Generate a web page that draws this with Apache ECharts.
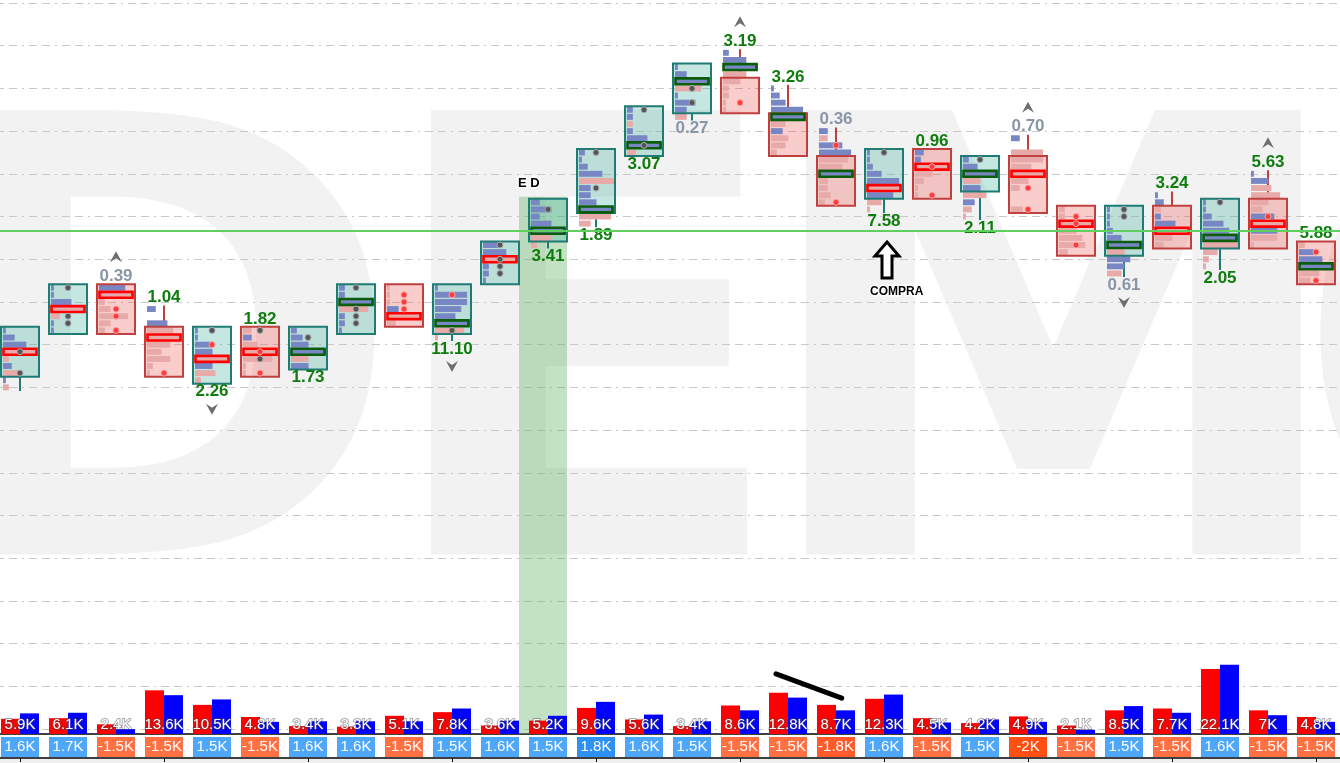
<!DOCTYPE html>
<html>
<head>
<meta charset="utf-8">
<title>Footprint</title>
<script src="https://cdn.jsdelivr.net/npm/echarts@6/dist/echarts.min.js"></script>
<style>
html,body{margin:0;padding:0;background:#fff;}
#main{width:1340px;height:763px;}
</style>
</head>
<body>
<div id="main"></div>
<script>
// price in ticks (1 tick = one profile row), 6 ticks per grid line
var bars = ['1','2','3','4','5','6','7','8','9','10','11','12','13','14','15','16','17','18','19','20','21','22','23','24','25','26','27','28'];
var openTick  = [50,56,62,56,49,56,51,56,62,56,63,69,73,81,87,91,86,80,75,81,76,80,73,67,73,68,74,68];
var closeTick = [56,62,56,50,56,50,56,62,57,62,68,74,81,87,93,87,81,74,81,75,80,73,67,73,68,74,68,63];
var highTick  = [56,62,62,59,56,56,56,62,62,62,68,74,81,87,93,95,90,84,81,81,80,83,73,73,75,74,78,68];
var lowTick   = [48,56,56,50,49,50,51,56,57,55,63,68,71,81,86,87,81,74,73,75,72,73,67,64,68,65,68,63];
var pocTick   = [53,59,61,55,52,53,53,60,58,57,66,70,73,82,91,93,86,78,76,79,78,78,71,68,70,69,71,65];

// volume at price, from high row down to low row (+ buy, - sell)
var profile = [
  [1,4,8,-12,-2,3,-5,1,-2],
  [1,1,7,-12,-3,1,1],
  [9,-12,-2,-4,-10,-4,-2],
  [3,0,7,-9,-12,-8,-5,-8,-2,-1],
  [1,1,6,6,-12,6,-7,-2],
  [-3,3,-5,-12,-10,-1,-1],
  [2,4,6,12,-6,6],
  [2,2,12,-10,2,2,1],
  [-1,-1,-1,4,-12,-3],
  [1,11,11,9,7,12,-10,-1],
  [6,8,-12,2,2,1],
  [3,7,3,7,12,-7,-2],
  [2,1,3,8,-12,4,4,6,12,-11,-4],
  [2,2,-2,2,7,12,-3],
  [1,4,12,-9,1,7,4,-4],
  [2,8,12,-8,-6,-2,-2,-1,-1],
  [1,3,5,11,12,-5,4,-6,-5,-2],
  [3,-3,8,11,-10,-8,12,-3,-3,-4,-2],
  [1,1,2,5,11,-12,9,-5,-1],
  [3,2,-12,-6,-3,-1,-1],
  [2,5,12,-6,6,-8,4,-3,-1],
  [3,0,-11,-11,-7,-12,-6,-3,0,0,-4],
  [-2,-2,-12,-6,-8,-9,-3],
  [1,1,1,2,5,12,-6,8,6,-5],
  [1,3,-2,2,7,-12,-6,-3],
  [1,1,3,7,9,12,-12,-5,-2,-1],
  [1,6,-7,-10,-6,-4,8,-12,9,-9,-1],
  [-2,5,8,12,-7,-4]
];
// dot rows (negative = red dot)
var dots = [[53,50],[62,58,57],[-59,-58,-56],[-50],[56,-54],[56,-53,52,-50],[55],[62,59,58,57],[-61,-60,-59],[-61,56],
  [68,66,65,64],[73],[81,76],[87,82],[90,88],[-88],[],[-82,-74],[81],[-79,-75],[80],[-76,-73],[-72,-71,-68],[73,72],[],[74],[-72],[-67,-63]];

var tagText  = ['','','0.39','1.04','2.26','1.82','1.73','','','11.10','','3.41','1.89','3.07','0.27','3.19','3.26','0.36','7.58','0.96','2.11','0.70','','0.61','3.24','2.05','5.63','5.88'];
var tagSide  = [0,0,1,1,-1,1,-1,0,0,-1,0,-1,-1,-1,-1,1,1,1,-1,1,-1,1,0,-1,1,-1,1,1];
var tagGray  = [0,0,1,0,0,0,0,0,0,0,0,0,0,0,1,0,0,1,0,0,0,1,0,1,0,0,0,0];
var tagArrow = [0,0,1,0,1,0,0,0,0,1,0,0,0,0,0,1,0,0,0,0,0,1,0,1,0,0,1,0];

var sellVol = [2.5,2.6,1.6,7.2,4.8,2.8,1.3,1.2,3.0,3.6,1.4,2.2,4.3,2.4,1.3,4.7,6.8,4.8,5.8,2.6,1.8,2.9,1.4,3.9,4.2,10.7,3.9,2.8];
var buyVol  = [3.4,3.5,0.8,6.4,5.7,2.0,2.1,2.1,2.1,4.2,2.2,3.0,5.3,3.2,2.1,3.9,6.0,3.9,6.5,1.9,2.4,2.0,0.7,4.6,3.5,11.4,3.1,2.0];
var volText = ['5.9K','6.1K','2.4K','13.6K','10.5K','4.8K','3.4K','3.3K','5.1K','7.8K','3.6K','5.2K','9.6K','5.6K','3.4K','8.6K','12.8K','8.7K','12.3K','4.5K','4.2K','4.9K','2.1K','8.5K','7.7K','22.1K','7K','4.8K'];
var delta   = [1.6,1.7,-1.5,-1.5,1.5,-1.5,1.6,1.6,-1.5,1.5,1.6,1.5,1.8,1.6,1.5,-1.5,-1.5,-1.8,1.6,-1.5,1.5,-2,-1.5,1.5,-1.5,1.6,-1.5,-1.5];

var levelTick = 70;
var highlightBar = 11, highlightText = 'E D';
var signalBar = 18, signalText = 'COMPRA';
var trendFrom = [15.75, 9.9], trendTo = [17.12, 5.9];

var FONT = '"Liberation Sans", Arial, sans-serif';

function catPoint(api, x, y) {
	var a = Math.floor(x);
	var p0 = api.coord([a, y]);
	var p1 = api.coord([a + 1, y]);
	return [p0[0] + (x - a) * (p1[0] - p0[0]), p0[1]];
}

function chevron(x, y, down) {
	var s = down ? -1 : 1;
	return {type:'polygon', shape:{points:[[x, y - 6*s], [x + 6, y + 5*s], [x, y + 1*s], [x - 6, y + 5*s]]},
		style:{fill:'#6e6e6e'}};
}

function renderCandle(params, api) {
	var i = api.value(0);
	var o = api.value(1), c = api.value(2), lo = api.value(3), hi = api.value(4);
	var up = c > o;
	var xc = api.coord([i, 0])[0];
	var tick = api.size([0, 1])[1];
	var yOf = function (t) { return api.coord([i, t])[1]; };
	var half = 19;
	var border = up ? '#1f7b74' : '#c0403f';
	var fill = up ? 'rgba(70,180,165,0.32)' : 'rgba(240,90,90,0.3)';
	var yTop = yOf(Math.max(o, c) + 0.5), yBot = yOf(Math.min(o, c) - 0.5);
	var yHi = yOf(hi + 0.5), yLo = yOf(lo - 0.5);
	var kids = [];
	if (yHi < yTop - 0.5) kids.push({type:'line', shape:{x1:xc, y1:yHi, x2:xc, y2:yTop}, style:{stroke:border, lineWidth:2}});
	if (yLo > yBot + 0.5) kids.push({type:'line', shape:{x1:xc, y1:yBot, x2:xc, y2:yLo}, style:{stroke:border, lineWidth:2}});
	kids.push({type:'rect', shape:{x:xc - half, y:yTop, width:half * 2, height:yBot - yTop}, style:{fill:fill}});
	var prof = profile[i];
	var unit = 35 / 12;
	for (var r = 0; r < prof.length; r++) {
		var v = prof[r];
		if (!v) continue;
		var yc = yOf(hi - r);
		kids.push({type:'rect', shape:{x:xc - half + 2, y:yc - tick / 2 + 0.6, width:Math.abs(v) * unit, height:tick - 1.2},
			style:{fill: v > 0 ? '#7886c4' : '#e8a9a9'}});
	}
	kids.push({type:'rect', shape:{x:xc - half, y:yTop, width:half * 2, height:yBot - yTop}, style:{fill:'none', stroke:border, lineWidth:2}});
	var pr = pocTick[i], pv = prof[hi - pr];
	kids.push({type:'rect', shape:{x:xc - 16.5, y:yOf(pr) - tick / 2 + 0.6, width:33, height:tick - 1.2},
		style:{fill:'none', stroke: pv > 0 ? '#0b5d0b' : '#ff0000', lineWidth:2.6}});
	var d = dots[i];
	for (var k = 0; k < d.length; k++) {
		var red = d[k] < 0;
		kids.push({type:'circle', shape:{cx:xc, cy:yOf(Math.abs(d[k])), r:3},
			style:{fill: red ? '#ff3c3c' : '#555', stroke: red ? '#ffa0a0' : '#aaa', lineWidth:1}});
	}
	if (tagText[i]) {
		var ty = tagSide[i] > 0 ? yHi - 8 : yLo + 8;
		kids.push({type:'text', style:{text:tagText[i], x:xc, y:ty, align:'center', verticalAlign:'middle',
			font:'bold 17px ' + FONT, fill: tagGray[i] ? '#8a95a6' : '#0e7d0e'}});
		if (tagArrow[i]) kids.push(tagSide[i] > 0 ? chevron(xc, ty - 19, false) : chevron(xc, ty + 17, true));
	}
	return {type:'group', children:kids};
}

function renderBand(params, api) {
	var i = api.value(0);
	var xc = api.coord([i, 0])[0];
	var yT = api.coord([i, api.value(1) + 0.5])[1] - 2;
	var yB = params.coordSys.y + params.coordSys.height + 5;
	return {type:'group', children:[
		{type:'rect', shape:{x:xc - 29, y:yT, width:48, height:yB - yT}, style:{fill:'rgba(100,180,100,0.39)'}},
		{type:'text', style:{text:highlightText, x:xc - 30, y:yT - 13, align:'left', verticalAlign:'middle',
			font:'bold 13px ' + FONT, fill:'#000', stroke:'#fff', lineWidth:3, strokeFirst:true}}
	]};
}

function renderSignal(params, api) {
	var i = api.value(0);
	var xc = api.coord([i, 0])[0] + 3;
	var y0 = api.coord([i, api.value(1) - 0.5])[1] + 29;
	return {type:'group', children:[
		{type:'polygon', shape:{points:[[xc, y0], [xc + 12, y0 + 14], [xc + 5, y0 + 14], [xc + 5, y0 + 36], [xc - 5, y0 + 36], [xc - 5, y0 + 14], [xc - 12, y0 + 14]]},
			style:{fill:'#fff', stroke:'#000', lineWidth:3, lineJoin:'miter'}},
		{type:'text', style:{text:signalText, x:xc - 17, y:y0 + 50, align:'left', verticalAlign:'middle',
			font:'bold 12px ' + FONT, fill:'#000', stroke:'#fff', lineWidth:3, strokeFirst:true}}
	]};
}

function renderVolText(params, api) {
	var i = api.value(0);
	var p = api.coord([i, 0]);
	return {type:'text', style:{text:volText[i], x:p[0], y:p[1] - 9, align:'center', verticalAlign:'middle',
		font:'15px ' + FONT, fill:'#fff', stroke:'rgba(70,70,70,0.45)', lineWidth:2, strokeFirst:true}};
}

function renderTrend(params, api) {
	var a = catPoint(api, trendFrom[0], trendFrom[1]);
	var b = catPoint(api, trendTo[0], trendTo[1]);
	return {type:'line', shape:{x1:a[0], y1:api.coord([0, trendFrom[1]])[1], x2:b[0], y2:api.coord([0, trendTo[1]])[1]},
		style:{stroke:'#000', lineWidth:5, lineCap:'round'}};
}

function deltaColor(v) {
	if (v >= 1.8) return '#2f90f3';
	if (v > 0) return '#4ea7fb';
	if (v <= -2) return '#ff4f12';
	if (v <= -1.8) return '#ff5a2b';
	return '#ff7043';
}

function renderDelta(params, api) {
	var i = api.value(0);
	var xc = api.coord([i, 0])[0];
	var cs = params.coordSys;
	return {type:'group', children:[
		{type:'rect', shape:{x:xc - 19, y:cs.y + 1, width:38, height:cs.height - 2}, style:{fill:deltaColor(delta[i])}},
		{type:'text', style:{text:delta[i] + 'K', x:xc, y:cs.y + cs.height / 2, align:'center', verticalAlign:'middle',
			font:'15px ' + FONT, fill:'#fff'}}
	]};
}

var candleData = bars.map(function (b, i) { return [i, openTick[i], closeTick[i], lowTick[i], highTick[i]]; });
var idxData = bars.map(function (b, i) { return [i, 0]; });

var wm = function (ch, x) {
	return {type:'text', z:-100, x:x, y:396, style:{text:ch, font:'bold 610px "DejaVu Sans"', fill:'#f2f2f2', align:'left', verticalAlign:'middle'}};
};

var myChart = echarts.init(document.getElementById('main'));
var option = {
	animation: false,
	backgroundColor: '#fff',
	graphic: [
		wm('D', -100), wm('E', 375), wm('M', 750), wm('O', 1290),
		{type:'rect', z:-50, left:0, bottom:0, shape:{width:1340, height:5}, style:{fill:'#efefef'}}
	],
	grid: [
		{left: -4, right: 0, top: 3, bottom: 34, outerBoundsMode: 'none', containLabel: false},
		{left: -4, right: 0, top: 552, bottom: 29, outerBoundsMode: 'none', containLabel: false},
		{left: -4, right: 0, top: 736, bottom: 5, outerBoundsMode: 'none', containLabel: false}
	],
	xAxis: [
		{type:'category', gridIndex:0, data:bars, show:false},
		{type:'category', gridIndex:1, data:bars, axisLabel:{show:false}, axisTick:{show:false},
			axisLine:{lineStyle:{color:'#000', width:1.5}}},
		{type:'category', gridIndex:2, data:bars, axisLabel:{show:false},
			axisTick:{show:true, interval:2, alignWithLabel:true, length:4, lineStyle:{color:'#000'}},
			axisLine:{lineStyle:{color:'#000', width:1.5}}}
	],
	yAxis: [
		{type:'value', gridIndex:0, min:0, max:102, interval:6, axisLabel:{show:false}, axisLine:{show:false}, axisTick:{show:false},
			splitLine:{show:true, lineStyle:{color:'#c8c8c8', width:1, type:[8,5,8,5,2,5]}}},
		{type:'value', gridIndex:1, min:0, max:30, show:false, splitLine:{show:false}},
		{type:'value', gridIndex:2, min:0, max:1, show:false, splitLine:{show:false}}
	],
	series: [
		{
			type:'line', xAxisIndex:0, yAxisIndex:0, data:[], silent:true,
			markLine:{symbol:'none', silent:true, label:{show:false},
				lineStyle:{color:'#5ed05e', width:2, type:'solid'}, data:[{yAxis: levelTick}]}
		},
		{type:'custom', xAxisIndex:0, yAxisIndex:0, renderItem:renderBand, data:[[highlightBar, highTick[highlightBar]]], silent:true},
		{type:'custom', xAxisIndex:0, yAxisIndex:0, renderItem:renderCandle, data:candleData, silent:true,
			encode:{x:0, y:[1,2,3,4]}},
		{type:'custom', xAxisIndex:0, yAxisIndex:0, renderItem:renderSignal, data:[[signalBar, lowTick[signalBar]]], silent:true},
		{name:'sell', type:'bar', xAxisIndex:1, yAxisIndex:1, data:sellVol, barWidth:19, barGap:'0%', itemStyle:{color:'#ff0000'}, silent:true},
		{name:'buy', type:'bar', xAxisIndex:1, yAxisIndex:1, data:buyVol, barWidth:19, barGap:'0%', itemStyle:{color:'#0000ff'}, silent:true},
		{type:'custom', xAxisIndex:1, yAxisIndex:1, renderItem:renderVolText, data:idxData, silent:true, z:5},
		{type:'custom', xAxisIndex:1, yAxisIndex:1, renderItem:renderTrend, data:[[16, 8]], silent:true, z:6},
		{type:'custom', xAxisIndex:2, yAxisIndex:2, renderItem:renderDelta, data:idxData, silent:true}
	]
};
myChart.setOption(option);
</script>
</body>
</html>
